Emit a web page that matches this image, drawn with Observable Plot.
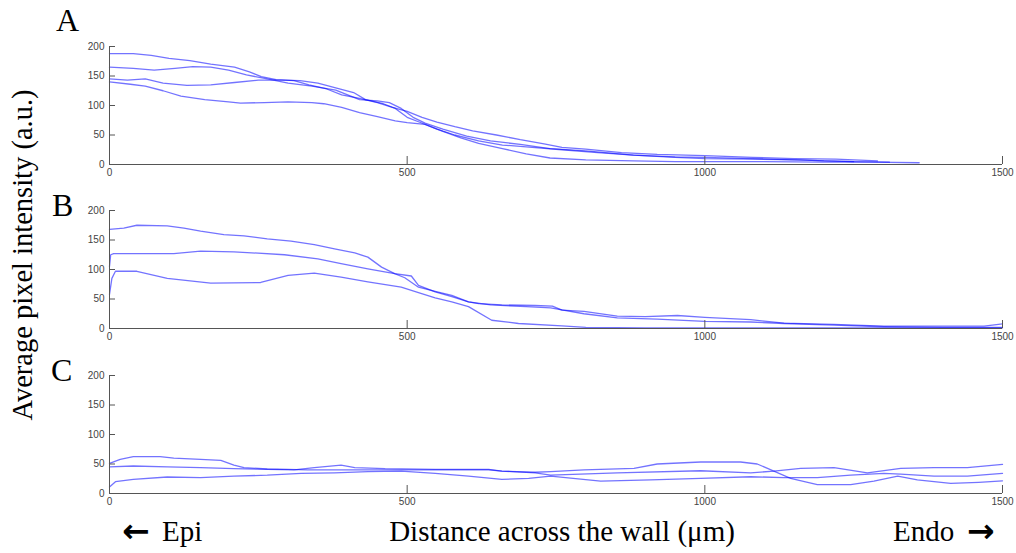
<!DOCTYPE html>
<html>
<head>
<meta charset="utf-8">
<script src="https://cdn.jsdelivr.net/npm/d3@7"></script>
<script src="https://cdn.jsdelivr.net/npm/@observablehq/plot@0.6"></script>
<style>
  html, body { margin: 0; padding: 0; background: #fff; }
  #wrap { position: relative; width: 1016px; height: 553px; overflow: hidden; background: #fff; }
  .panel { position: absolute; left: 0; }
  .serif { position: absolute; font-family: "Liberation Serif", "Times New Roman", serif; color: #000; white-space: nowrap; }
  .arrow { position: absolute; font-family: "DejaVu Sans", sans-serif; font-weight: bold; font-size: 33px; line-height: 1; color: #000; }
</style>
</head>
<body>
<div id="wrap"></div>
<script>
// ---- Data (distance in µm, average pixel intensity in a.u.) ----
const xTicks = [0, 500, 1000, 1500];
const yTicks = [0, 50, 100, 150, 200];
const panelLabels = ["A", "B", "C"];

// Panel A
const A1 = [[0,188],[40,188],[70,185],[100,180],[135,176],[170,170],[210,165],[235,157],[255,149],[280,144],[310,142],[335,135],[365,128],[390,118],[420,112],[450,105],[475,97],[500,90],[525,80],[550,72],[580,64],[610,57],[650,50],[690,42],[730,35],[760,29],[800,26],[860,20],[920,17],[1000,15],[1080,12],[1150,10],[1220,9],[1290,6]];
const A2 = [[0,165],[40,163],[75,160],[110,163],[140,166],[170,165],[200,160],[230,152],[265,145],[300,138],[340,133],[380,126],[400,118],[420,110],[450,108],[470,105],[490,95],[510,80],[530,70],[560,60],[600,48],[640,40],[690,34],[740,27],[800,23],[880,16],[950,13],[1000,12],[1080,10],[1150,8],[1250,5],[1310,4]];
const A3 = [[0,145],[30,143],[60,145],[90,138],[130,134],[170,135],[210,139],[250,143],[290,143],[320,142],[350,138],[380,130],[410,122],[430,110],[460,103],[480,95],[500,80],[520,72],[550,60],[580,50],[620,40],[660,33],[700,30],[760,25],[820,20],[880,16],[950,12],[1000,10],[1080,9],[1160,8],[1200,6],[1250,5]];
const A4 = [[0,140],[35,136],[60,133],[90,125],[120,116],[160,110],[200,106],[220,104],[260,105],[300,106],[340,105],[360,103],[390,97],[420,88],[450,81],[480,74],[500,71],[530,68],[560,56],[590,45],[620,36],[660,27],[700,18],[740,11],[800,8],[880,6],[950,5],[1000,5],[1100,5],[1200,4],[1280,4],[1360,3]];

// Panel B
const B1 = [[0,168],[24,170],[46,175],[97,174],[125,170],[153,165],[192,159],[226,157],[265,152],[305,148],[344,142],[378,135],[412,128],[434,121],[457,104],[479,93],[496,86],[519,70],[547,63],[575,56],[603,45],[620,42],[659,40],[715,39],[744,38],[760,31],[797,29],[853,21],[900,20],[954,22],[1000,19],[1077,15],[1133,9],[1217,7],[1301,4],[1400,4],[1469,4],[1500,8]];
const B2 = [[0,105],[2,125],[7,127],[108,127],[153,131],[209,130],[294,125],[350,118],[389,110],[434,101],[479,93],[507,89],[519,73],[547,62],[575,54],[603,45],[640,40],[700,37],[741,35],[797,25],[853,18],[920,16],[1000,12],[1077,11],[1133,8.5],[1217,5.6],[1301,3],[1400,2],[1500,2]];
const B3 = [[0,58],[4,85],[10,97],[46,97],[97,85],[170,77],[254,78],[300,90],[344,94],[389,87],[434,79],[490,70],[519,61],[547,52],[575,45],[603,37],[642,14],[687,8.5],[760,4.5],[800,2],[900,1],[1000,1],[1200,1],[1500,1]];

// Panel C
const C1 = [[0,51],[18,58],[40,62.5],[85,62.5],[108,60],[153,58],[187,56],[209,48],[226,44],[265,41.5],[300,41],[333,40],[400,40],[490,40],[547,40],[603,40],[637,40],[659,38],[715,36],[741,37],[797,40],[881,42.6],[920,50],[993,53.4],[1060,53.4],[1088,50],[1116,38],[1144,25.6],[1189,15],[1245,15],[1284,21],[1324,29.5],[1357,23],[1413,17],[1460,19],[1500,21.5]];
const C2 = [[0,45],[40,46.6],[97,45],[153,44],[209,42],[265,41],[310,40],[344,44],[389,48],[412,44],[463,42],[547,41],[637,41],[659,38],[715,35],[741,31],[853,35],[993,38.6],[1077,35],[1116,38],[1161,42.6],[1217,43.8],[1273,35],[1329,42.6],[1385,43.8],[1441,44],[1500,49.4]];
const C3 = [[0,11],[10,20],[40,24],[97,28],[153,27],[209,29.5],[265,31],[322,34],[378,35],[434,37],[490,38],[547,34],[603,29.5],[659,24],[704,25.5],[741,29.5],[825,21],[909,23],[993,25.6],[1077,28.4],[1133,27],[1189,27],[1245,31],[1301,34],[1329,33],[1385,29.5],[1441,29.5],[1500,34]];

const panels = [
  {label: panelLabels[0], series: {A1, A2, A3, A4}},
  {label: panelLabels[1], series: {B1, B2, B3}},
  {label: panelLabels[2], series: {C1, C2, C3}}
];

// ---- Layout ----
const wrap = document.getElementById("wrap");
const plotTops = [46, 210, 375];   // top of each plot area
const mt = 8, mb = 20, innerH = 118;
const labelPos = [[56, 2], [52, 187], [51, 352]];

panels.forEach((p, i) => {
  const rows = [];
  for (const [name, pts] of Object.entries(p.series)) {
    for (const [x, y] of pts) rows.push({s: name, x, y});
  }
  const chart = Plot.plot({
    width: 1016,
    height: mt + innerH + mb,
    marginLeft: 109,
    marginRight: 14,
    marginTop: mt,
    marginBottom: mb,
    style: {fontFamily: "'Liberation Sans', Arial, sans-serif", fontSize: "10px", color: "#444", background: "transparent"},
    x: {domain: [0, 1500], ticks: xTicks},
    y: {domain: [0, 200], ticks: yTicks},
    marks: [
      Plot.line(rows, {x: "x", y: "y", z: "s", stroke: "#0000ff", strokeOpacity: 0.55, strokeWidth: 1.3, curve: "linear"}),
      Plot.ruleY([0], {stroke: "#555", strokeWidth: 1}),
      Plot.ruleX([0], {stroke: "#555", strokeWidth: 1}),
      Plot.axisX({ticks: xTicks, tickSize: -8, tickPadding: 12, stroke: "#555", fill: "#444", label: null, tickFormat: d => String(d)}),
      Plot.axisY({ticks: yTicks, tickSize: -6, tickPadding: 11, stroke: "#555", fill: "#444", label: null, tickFormat: d => String(d)})
    ]
  });
  chart.classList.add("panel");
  chart.style.top = (plotTops[i] - mt) + "px";
  wrap.appendChild(chart);

  const lab = document.createElement("div");
  lab.className = "serif";
  lab.style.left = labelPos[i][0] + "px";
  lab.style.top = labelPos[i][1] + "px";
  lab.style.fontSize = "32px";
  lab.textContent = p.label;
  wrap.appendChild(lab);
});

// y-axis title
const yt = document.createElement("div");
yt.className = "serif";
yt.style.fontSize = "28.5px";
yt.style.left = "23px";
yt.style.top = "255px";
yt.style.transform = "translate(-50%, -50%) rotate(-90deg)";
yt.textContent = "Average pixel intensity (a.u.)";
wrap.appendChild(yt);

// x-axis title
const xt = document.createElement("div");
xt.className = "serif";
xt.style.fontSize = "29px";
xt.style.left = "562px";
xt.style.top = "515px";
xt.style.transform = "translateX(-50%)";
xt.textContent = "Distance across the wall (\u03bcm)";
wrap.appendChild(xt);

// Epi / Endo with heavy arrows
function addText(cls, text, left, top, size) {
  const d = document.createElement("div");
  d.className = cls;
  d.style.left = left + "px";
  d.style.top = top + "px";
  if (size) d.style.fontSize = size;
  d.textContent = text;
  wrap.appendChild(d);
  return d;
}
addText("arrow", "\u2190", 122, 514);
addText("serif", "Epi", 162, 515, "29px");
addText("serif", "Endo", 893, 515, "29px");
addText("arrow", "\u2192", 967, 514);
</script>
</body>
</html>
